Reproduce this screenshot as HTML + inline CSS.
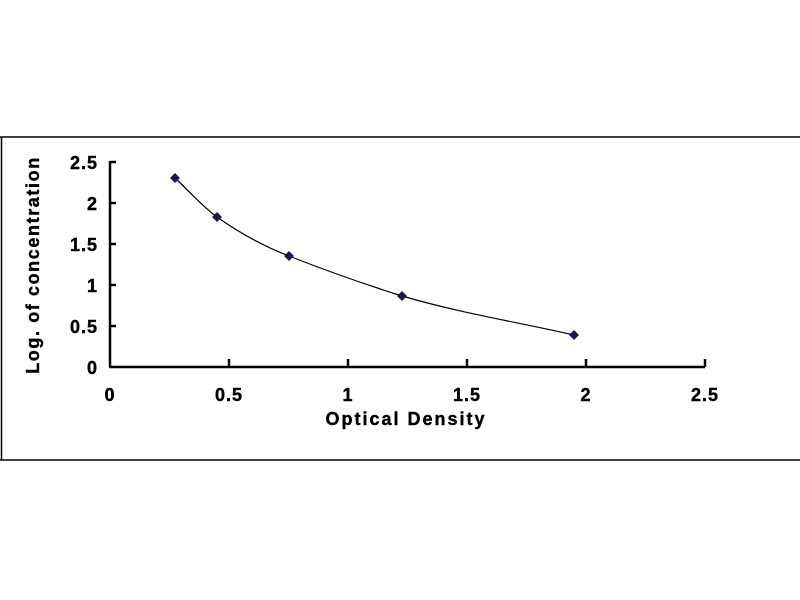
<!DOCTYPE html>
<html><head><style>body{margin:0;background:#fff}svg{display:block}text{font-family:"Liberation Sans",Arial,sans-serif;font-weight:bold;fill:#000;stroke:#000;stroke-width:0.4}</style></head>
<body><svg width="800" height="600" viewBox="0 0 800 600">
<rect x="0" y="0" width="800" height="600" fill="#fff"/>
<line x1="0" y1="137" x2="800" y2="137" stroke="#000" stroke-width="1.5"/>
<line x1="1.5" y1="137" x2="1.5" y2="460" stroke="#000" stroke-width="1.5"/>
<line x1="0" y1="460" x2="800" y2="460" stroke="#000" stroke-width="1.5"/>
<g stroke="#000" stroke-width="2.5" fill="none">
<line x1="110" y1="161" x2="110" y2="367"/>
<line x1="109" y1="367" x2="705" y2="367"/>
<line x1="110" y1="162" x2="116" y2="162"/>
<line x1="110" y1="203" x2="116" y2="203"/>
<line x1="110" y1="244" x2="116" y2="244"/>
<line x1="110" y1="285" x2="116" y2="285"/>
<line x1="110" y1="326" x2="116" y2="326"/>
<line x1="229" y1="367" x2="229" y2="359"/>
<line x1="348" y1="367" x2="348" y2="359"/>
<line x1="467" y1="367" x2="467" y2="359"/>
<line x1="586" y1="367" x2="586" y2="359"/>
<line x1="705" y1="367" x2="705" y2="359"/>
</g>
<g font-size="18" text-anchor="end" letter-spacing="1">
<text x="98" y="169">2.5</text><text x="98" y="210">2</text><text x="98" y="251">1.5</text>
<text x="98" y="292">1</text><text x="98" y="333">0.5</text><text x="98" y="374">0</text>
</g>
<g font-size="18" text-anchor="middle" letter-spacing="1">
<text x="110" y="401">0</text><text x="229" y="401">0.5</text><text x="348" y="401">1</text>
<text x="467" y="401">1.5</text><text x="586" y="401">2</text><text x="705" y="401">2.5</text>
</g>
<text x="406" y="425" font-size="18" text-anchor="middle" letter-spacing="2">Optical Density</text>
<text transform="translate(39,265) rotate(-90)" font-size="18" text-anchor="middle" letter-spacing="1.6">Log. of concentration</text>
<path d="M175,178 C189,191 203,207 217,217 C241,234 263,246 289,256 C327,271 364,284 402,296 C460,313 517,322 574,335" stroke="#000" stroke-width="1.2" fill="none"/>
<g fill="#1a1a4a">
<polygon points="175,173 180,178 175,183 170,178"/>
<polygon points="217,212 222,217 217,222 212,217"/>
<polygon points="289,251 294,256 289,261 284,256"/>
<polygon points="402,291 407,296 402,301 397,296"/>
<polygon points="574,330 579,335 574,340 569,335"/>
</g>
</svg></body></html>
